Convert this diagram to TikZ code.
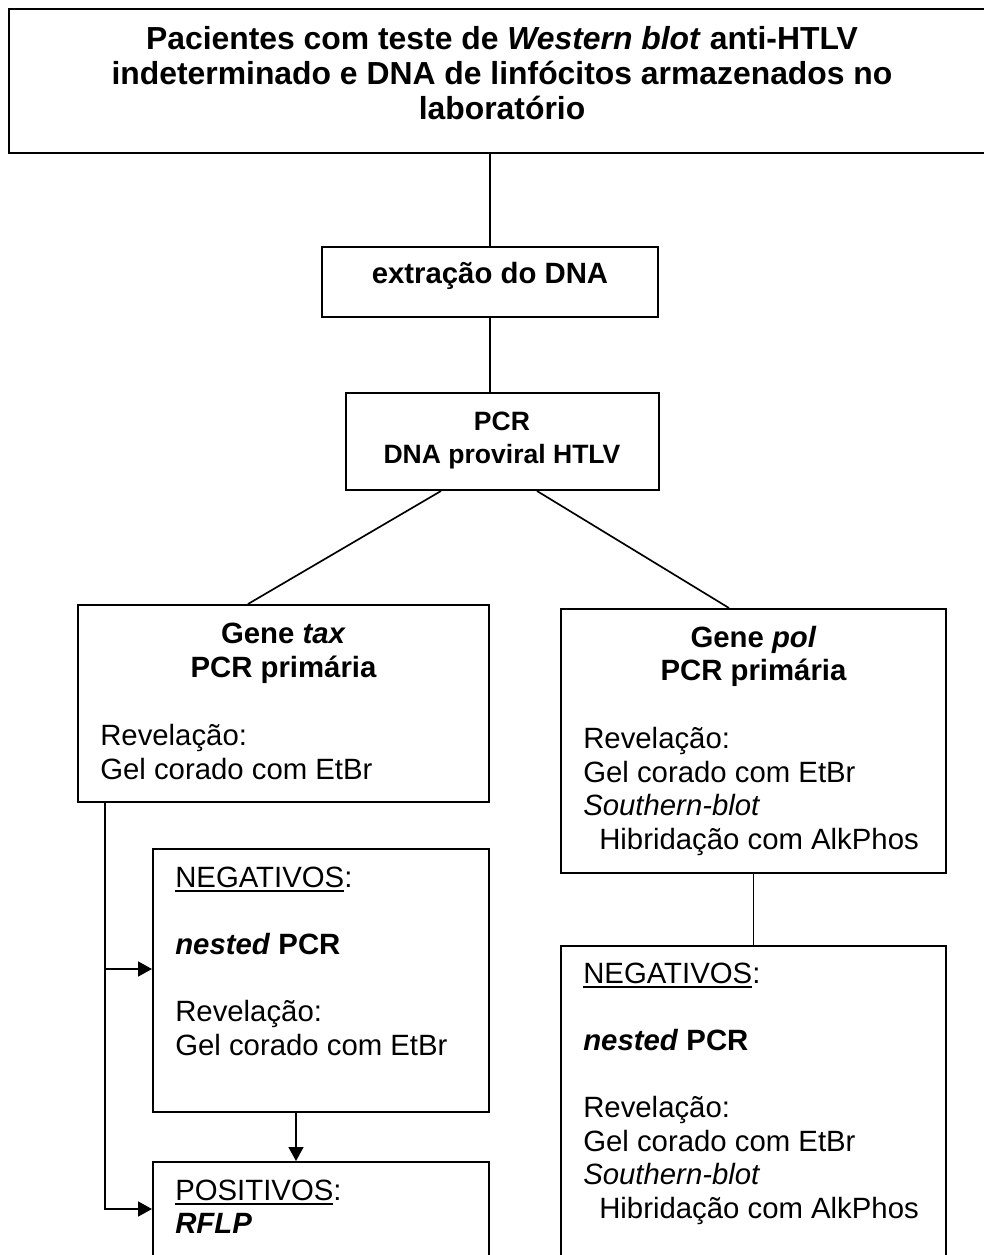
\documentclass[tikz,border=0pt]{standalone}
\usepackage{fontspec}
\setmainfont{Liberation Sans}
\usetikzlibrary{arrows.meta,calc,fit}
\newcommand\myul[1]{\setbox0\hbox{#1}\rlap{\rule[-3.6pt]{\wd0}{1.4pt}}\box0}
\begin{document}
\begin{tikzpicture}[x=0.75pt,y=-0.75pt,
  box/.style={draw,line width=1.5pt,inner sep=0pt,rectangle},
  topbox/.style={box,line width=2pt},
  conn/.style={line width=1.25pt},
  arr/.style={conn,-{Triangle[length=10.5pt,width=11.25pt]}},
  bodyl/.style={inner sep=0pt,anchor=base west,font=\fontsize{22}{25.3}\selectfont},
  boldc/.style={inner sep=0pt,anchor=base,font=\fontsize{22}{25.3}\selectfont\bfseries},
  titl/.style={inner sep=0pt,anchor=base,font=\fontsize{23.9}{27.5}\selectfont\bfseries},
  smallc/.style={inner sep=0pt,anchor=base,font=\fontsize{19.9}{23}\selectfont\bfseries}]
\useasboundingbox (0,0) rectangle (984,1255);
\clip (0,0) rectangle (984,1255);
% boxes
\node[topbox,fit={(9,9) (996,153)}] (top) {};
\node[box,fit={(322,247) (658,317)}] (ext) {};
\node[box,fit={(346,393) (659,490)}] (pcr) {};
\node[box,fit={(78,605) (489,802)}] (tax) {};
\node[box,fit={(561,609) (946,873)}] (pol) {};
\node[box,fit={(153,849) (489,1112)}] (negl) {};
\node[box,fit={(153,1162) (489,1290)}] (pos) {};
\node[box,fit={(561,946) (946,1290)}] (negr) {};
% texts
\node[titl] (l1) at (502,50) {Pacientes com teste de \textit{Western blot} anti-HTLV};
\node[titl] (l2) at (502,85) {indeterminado e DNA de linfócitos armazenados no};
\node[titl] (l3) at (502,120) {laboratório};
\node[boldc] (e1) at (490,283) {extração do DNA};
\node[smallc] (p1) at (502,430) {PCR};
\node[smallc] (p2) at (502,463) {DNA proviral HTLV};
\node[boldc] (t1) at (283.5,643) {Gene \textit{tax}};
\node[boldc] (t2) at (283.5,677) {PCR primária};
\node[bodyl] (t3) at (100,745) {Revelação:};
\node[bodyl] (t4) at (100,779) {Gel corado com EtBr};
\node[boldc] (g1) at (753.5,647) {Gene \textit{pol}};
\node[boldc] (g2) at (753.5,680) {PCR primária};
\node[bodyl] (g3) at (583,748) {Revelação:};
\node[bodyl] (g4) at (583,782) {Gel corado com EtBr};
\node[bodyl] (g5) at (583,815) {\textit{Southern-blot}};
\node[bodyl] (g6) at (599,849) {Hibridação com AlkPhos};
\node[bodyl] (n1) at (175,887) {\myul{NEGATIVOS}:};
\node[bodyl] (n2) at (175,954) {\textbf{\textit{nested} PCR}};
\node[bodyl] (n3) at (175,1021) {Revelação:};
\node[bodyl] (n4) at (175,1055) {Gel corado com EtBr};
\node[bodyl] (s1) at (175,1200) {\myul{POSITIVOS}:};
\node[bodyl] (s2) at (175,1233) {\textbf{\textit{RFLP}}};
\node[bodyl] (r1) at (583,983) {\myul{NEGATIVOS}:};
\node[bodyl] (r2) at (583,1050) {\textbf{\textit{nested} PCR}};
\node[bodyl] (r3) at (583,1117) {Revelação:};
\node[bodyl] (r4) at (583,1151) {Gel corado com EtBr};
\node[bodyl] (r5) at (583,1184) {\textit{Southern-blot}};
\node[bodyl] (r6) at (599,1218) {Hibridação com AlkPhos};
% connectors
\draw[conn] (ext.north) -- (ext.north |- top.south);
\draw[conn] (ext.south) -- (ext.south |- pcr.north);
\draw[conn] ($(pcr.south west)+(96,0)$) -- ($(tax.north west)+(171,0)$);
\draw[conn] ($(pcr.south west)+(192,0)$) -- ($(pol.north west)+(169,0)$);
\coordinate (tl) at ($(tax.south west)+(28,0)$);
\draw[arr] (tl) |- ($(pos.north west)+(0,48)$);
\draw[arr] (tl) |- ($(negl.north west)+(0,121)$);
\draw[arr] ($(negl.south west)+(144,0)$) -- ($(pos.north west)+(144,0)$);
\draw[conn] (pol.south) -- (pol.south |- negr.north);
\end{tikzpicture}
\end{document}
